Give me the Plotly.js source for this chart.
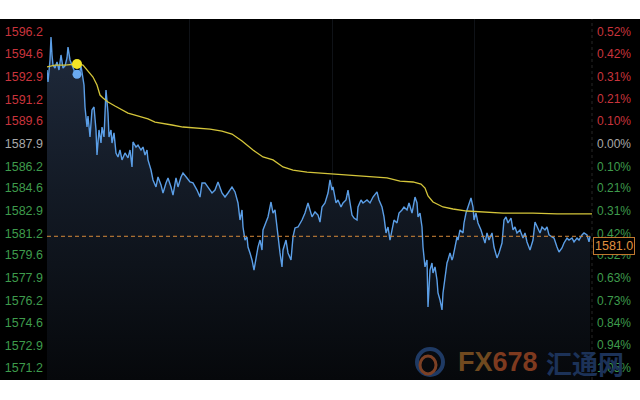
<!DOCTYPE html>
<html>
<head>
<meta charset="utf-8">
<script src="https://cdn.plot.ly/plotly-3.0.1.min.js"></script>
<style>
  html, body { margin: 0; padding: 0; background: #ffffff; width: 640px; height: 400px; overflow: hidden; }
  #chart { position: absolute; left: 0; top: 19px; width: 640px; height: 361px; }
</style>
</head>
<body>
<div id="chart"></div>
<script>
// ---- data ----
const minutes = [
  0,1,3,4,5,6,8,10,12,14,
  16,18,20,21,23,25,27,29,30,32,
  34,35,37,38,40,41,43,45,47,49,
  50,52,54,55,57,59,61,62,64,65,
  67,69,71,73,75,78,81,83,85,86,
  89,91,94,96,98,100,101,104,106,109,
  111,114,116,119,121,124,126,129,131,134,
  136,140,143,146,150,153,155,158,161,165,
  168,171,175,178,181,185,188,191,193,195,
  196,198,200,201,203,205,207,209,211,213,
  215,216,219,221,224,226,228,230,231,233,
  235,236,239,241,244,246,248,251,255,258,
  261,265,268,271,273,275,278,281,283,285,
  286,289,291,294,296,299,301,303,305,307,
  310,311,314,316,320,323,326,330,332,335,
  337,339,341,343,345,347,350,352,355,357,
  360,362,365,366,368,370,371,373,375,376,
  378,380,381,383,385,386,388,390,391,393,
  395,396,398,400,401,403,405,406,408,410,
  411,413,416,417,419,421,424,426,427,429,
  431,434,436,438,440,442,445,447,450,452,
  455,457,459,461,464,466,468,470,473,476,
  478,480,483,486,488,490,493,495,498,500,
  502,505,507,510,512,515,517,520,522,525,
  527,530,532,535,537,540,542,543
];
const price = [
  1593.37,1592.48,1594.12,1595.83,1594.49,1593.74,1593.52,1593.97,1593.37,1594.49,
  1593.52,1593.67,1594.27,1595.08,1594.12,1593.74,1593.37,1592.78,1593.22,1592.93,
  1593.67,1593.22,1592.26,1590.62,1589.13,1589.95,1588.39,1590.40,1590.62,1588.91,
  1587.05,1588.91,1587.94,1589.13,1588.39,1591.88,1590.17,1588.39,1588.91,1587.94,
  1588.69,1587.20,1586.90,1587.42,1586.68,1587.20,1586.83,1587.42,1586.16,1588.02,
  1587.64,1587.79,1587.42,1587.64,1587.05,1587.42,1586.68,1585.93,1585.19,1584.67,
  1585.41,1584.82,1584.22,1584.97,1585.34,1584.67,1584.07,1585.34,1584.67,1585.41,
  1585.71,1585.34,1585.04,1584.97,1584.44,1583.92,1584.97,1584.97,1584.67,1584.22,
  1584.44,1585.04,1584.22,1583.92,1584.22,1584.67,1584.30,1583.48,1582.21,1582.96,
  1581.69,1580.72,1580.95,1580.20,1579.76,1579.24,1578.49,1579.46,1580.20,1580.72,
  1579.98,1581.47,1581.99,1582.44,1583.55,1582.73,1582.96,1581.69,1580.72,1579.76,
  1578.72,1579.98,1580.72,1579.76,1579.24,1580.95,1581.62,1581.69,1582.21,1582.73,
  1583.48,1582.44,1582.81,1582.58,1582.06,1583.18,1583.48,1584.22,1585.19,1584.44,
  1584.67,1583.48,1583.70,1583.18,1583.48,1583.70,1584.44,1583.48,1582.58,1582.36,
  1582.21,1583.18,1583.70,1583.48,1583.70,1583.48,1583.92,1584.30,1583.70,1583.18,
  1582.44,1581.25,1581.69,1580.72,1581.47,1582.21,1581.99,1582.73,1582.96,1583.18,
  1582.96,1583.48,1582.73,1583.18,1583.92,1583.48,1582.44,1582.73,1581.69,1580.20,
  1578.72,1579.24,1575.74,1578.49,1579.01,1578.27,1578.72,1577.75,1576.78,1576.26,
  1575.52,1576.78,1577.97,1579.01,1579.24,1579.76,1579.24,1579.46,1580.20,1580.95,
  1580.72,1581.47,1581.25,1581.99,1582.73,1583.18,1583.85,1583.18,1582.21,1582.73,
  1581.99,1581.47,1580.95,1580.50,1581.25,1580.72,1581.25,1580.20,1579.39,1579.76,
  1580.50,1582.21,1582.44,1581.99,1582.36,1581.47,1581.69,1581.25,1581.47,1580.87,
  1581.25,1580.58,1579.98,1580.72,1582.06,1581.69,1581.25,1581.69,1581.47,1581.69,
  1581.10,1580.95,1580.87,1580.20,1579.83,1580.13,1580.50,1580.87,1580.72,1580.87,
  1580.58,1580.87,1580.72,1581.10,1581.25,1581.10,1580.58,1581.00
];
const avgMinutes = [0,8,18,30,36,40,46,50,53,56,61,68,75,81,88,95,101,108,115,125,136,148,163,175,185,195,206,216,226,236,246,260,273,290,306,323,340,353,366,374,378,381,386,396,406,420,436,456,486,510,545];
const avgPrice = [1593.60,1593.74,1593.74,1593.82,1593.74,1593.37,1592.85,1592.26,1591.51,1591.29,1590.99,1590.69,1590.40,1590.17,1590.02,1589.88,1589.73,1589.50,1589.43,1589.28,1589.13,1589.06,1588.98,1588.83,1588.61,1588.09,1587.42,1586.90,1586.68,1586.16,1585.93,1585.78,1585.71,1585.63,1585.49,1585.41,1585.34,1585.11,1585.04,1584.89,1584.59,1584.00,1583.55,1583.18,1583.03,1582.88,1582.81,1582.73,1582.73,1582.66,1582.66];
const highlightMinute = 30;
const highlightAvg = 1593.82;
const highlightPrice = 1593.05;
const lastPrice = 1581.0;
const prevClose = 1587.9;
const leftTickVals = [1596.2,1594.6,1592.9,1591.2,1589.6,1587.9,1586.2,1584.6,1582.9,1581.2,1579.6,1577.9,1576.2,1574.6,1572.9,1571.2];
const rightTickLabels = ["0.52%","0.42%","0.31%","0.21%","0.10%","0.00%","0.10%","0.21%","0.31%","0.42%","0.52%","0.63%","0.73%","0.84%","0.94%","1.05%"];
const timeGrid = [142, 285, 427];

// ---- styling ----
const RED = '#c9343c', GREY = '#a8a8a8', GREEN = '#3e9b4c';
function col(v) { return Math.abs(v - prevClose) < 0.05 ? GREY : (v > prevClose ? RED : GREEN); }
const leftTickText = leftTickVals.map(v => `<span style="color:${col(v)}">${v.toFixed(1)}</span>`);
const rightTickText = rightTickLabels.map((t, i) => `<span style="color:${col(leftTickVals[i])}">${t}</span>`);
const yRange = [1570.307, 1597.167];
const xRange = [0, 545];

const W = 545, H = 361;
const px2x = p => (p - 47) / W;
const py2y = p => (380 - p) / H;

const traces = [
  {
    x: minutes, y: price, type: 'scatter', mode: 'lines',
    line: { color: '#5b9ee6', width: 1.4 },
    fill: 'tozeroy',
    fillgradient: { type: 'vertical', start: yRange[0], stop: Math.max(...price),
      colorscale: [[0, '#06080b'], [0.55, '#131a25'], [1, '#1f2a3c']] },
    hoverinfo: 'skip'
  },
  {
    x: avgMinutes, y: avgPrice, type: 'scatter', mode: 'lines',
    line: { color: '#d4c53a', width: 1.3 }, hoverinfo: 'skip'
  },
  {
    x: [xRange[0], xRange[1]], y: [lastPrice, lastPrice], yaxis: 'y2', type: 'scatter', mode: 'lines',
    line: { color: '#d4893a', width: 1, dash: '4px,3px' }, hoverinfo: 'skip'
  },
  {
    x: [highlightMinute], y: [highlightPrice], type: 'scatter', mode: 'markers',
    marker: { color: '#6aaaf0', size: 9 }, hoverinfo: 'skip'
  },
  {
    x: [highlightMinute], y: [highlightAvg], type: 'scatter', mode: 'markers',
    marker: { color: '#f2e526', size: 10 }, hoverinfo: 'skip'
  }
];

const fontFam = 'Liberation Sans, Arial, sans-serif';
const layout = {
  width: 640, height: 361,
  margin: { l: 47, r: 48, t: 0, b: 0, pad: 0 },
  paper_bgcolor: '#000000', plot_bgcolor: '#000000',
  showlegend: false,
  font: { family: fontFam, size: 12, color: GREY },
  xaxis: {
    range: xRange, tickvals: timeGrid, showticklabels: false, ticks: '',
    showgrid: true, gridcolor: '#0f1217', gridwidth: 1, zeroline: false, showline: false, fixedrange: true
  },
  yaxis: {
    range: yRange, tickvals: leftTickVals, ticktext: leftTickText, ticks: '',
    showgrid: false, zeroline: false, showline: false, side: 'left',
    tickfont: { family: fontFam, size: 12.5 }, ticklabelstandoff: 3, fixedrange: true
  },
  yaxis2: {
    range: yRange, overlaying: 'y', side: 'right', tickvals: leftTickVals, ticktext: rightTickText,
    ticks: '', showgrid: false, zeroline: false, showline: false,
    tickfont: { family: fontFam, size: 12 }, ticklabelstandoff: 4, fixedrange: true
  },
  shapes: [
    { type: 'line', xref: 'paper', yref: 'paper', x0: 1, x1: 1, y0: 0, y1: 1,
      line: { color: '#262626', width: 1, dash: 'dot' } },
    { type: 'circle', xref: 'paper', yref: 'paper',
      x0: px2x(417), x1: px2x(443), y0: py2y(375), y1: py2y(349),
      line: { color: '#1f3a64', width: 4 } },
    { type: 'circle', xref: 'paper', yref: 'paper',
      x0: px2x(420), x1: px2x(436), y0: py2y(374), y1: py2y(356),
      line: { color: '#7c4024', width: 3 } }
  ],
  annotations: [
    { x: 1, xref: 'paper', y: lastPrice, yref: 'y', xanchor: 'left', yanchor: 'top', xshift: 1, yshift: -1,
      text: lastPrice.toFixed(1), showarrow: false,
      font: { family: fontFam, size: 12.5, color: '#e0913f' },
      bgcolor: '#000000', bordercolor: '#c0782f', borderwidth: 1, borderpad: 1 },
    { x: px2x(456), xref: 'paper', y: py2y(362), yref: 'paper', xanchor: 'left', yanchor: 'middle',
      text: '<b><span style="color:#70491f">FX</span><span style="color:#7e3a1f">678</span></b>',
      showarrow: false, font: { family: fontFam, size: 27 } },
    { x: px2x(544), xref: 'paper', y: py2y(362), yref: 'paper', xanchor: 'left', yanchor: 'middle',
      text: '<b>汇通网</b>', showarrow: false,
      font: { family: 'Noto Sans CJK SC, sans-serif', size: 26, color: '#1c3258' } }
  ]
};

Plotly.newPlot('chart', traces, layout, { staticPlot: true, displayModeBar: false });
</script>
</body>
</html>
